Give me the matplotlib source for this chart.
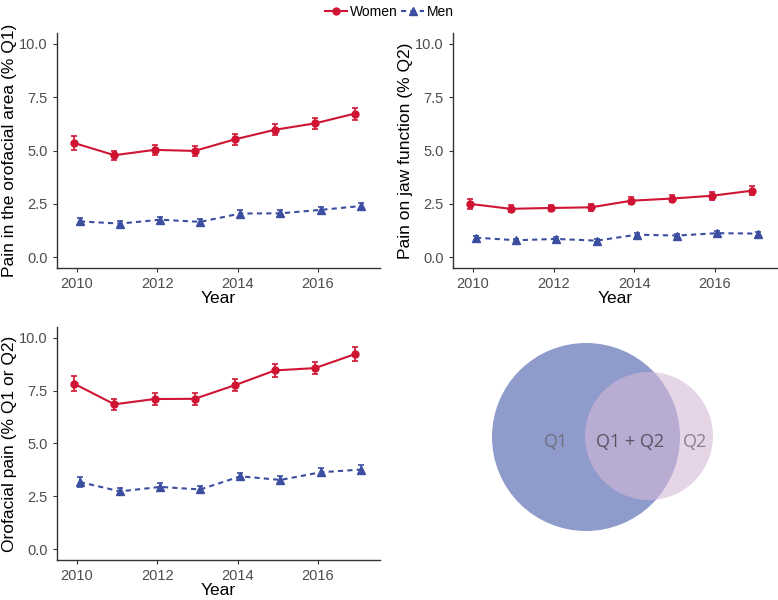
import matplotlib
matplotlib.use("Agg")
import matplotlib.pyplot as plt
from matplotlib.patches import Circle
from matplotlib.lines import Line2D
import numpy as np

plt.rcParams['font.family'] = ['Liberation Sans', 'DejaVu Sans']

years = [2010, 2011, 2012, 2013, 2014, 2015, 2016, 2017]

# Q1: pain in the orofacial area
q1_women = [5.35, 4.78, 5.03, 4.98, 5.52, 5.97, 6.27, 6.73]
q1_women_err = [0.32, 0.22, 0.24, 0.22, 0.24, 0.25, 0.26, 0.28]
q1_men = [1.68, 1.58, 1.76, 1.66, 2.05, 2.06, 2.22, 2.40]
q1_men_err = [0.15, 0.13, 0.14, 0.13, 0.15, 0.14, 0.15, 0.16]

# Q2: pain on jaw function
q2_women = [2.50, 2.27, 2.31, 2.34, 2.65, 2.75, 2.88, 3.12]
q2_women_err = [0.22, 0.16, 0.16, 0.16, 0.17, 0.17, 0.18, 0.2]
q2_men = [0.92, 0.80, 0.86, 0.78, 1.06, 1.02, 1.13, 1.11]
q2_men_err = [0.09, 0.08, 0.08, 0.08, 0.09, 0.08, 0.09, 0.09]

# Q1 or Q2
any_women = [7.82, 6.85, 7.10, 7.11, 7.75, 8.45, 8.56, 9.22]
any_women_err = [0.35, 0.27, 0.28, 0.27, 0.29, 0.29, 0.3, 0.32]
any_men = [3.18, 2.74, 2.95, 2.83, 3.45, 3.28, 3.64, 3.77]
any_men_err = [0.22, 0.15, 0.17, 0.16, 0.18, 0.17, 0.18, 0.2]

ylabels = ["Pain in the orofacial area (% Q1)",
           "Pain on jaw function (% Q2)",
           "Orofacial pain (% Q1 or Q2)"]
venn_labels = ["Q1", "Q1 + Q2", "Q2"]

RED = '#cf1533'
BLUE = '#3c4ea0'
TXT = '#4d4d4d'

W, H = 778, 600
fig = plt.figure(figsize=(7.78, 6), dpi=100)


def px_axes(x0, y0, x1, y1):
    return fig.add_axes([x0 / W, 1 - y1 / H, (x1 - x0) / W, (y1 - y0) / H])


def panel(ax, women, werr, men, merr, ylabel):
    x = np.array(years)
    ax.errorbar(x - 0.07, women, yerr=werr, color=RED, marker='o', ms=5,
                lw=1.5, capsize=2.5, elinewidth=1.2, capthick=1.2)
    ax.errorbar(x + 0.07, men, yerr=merr, color=BLUE, marker='^', ms=6,
                lw=1.5, ls=(0, (2.5, 2)), capsize=2.5, elinewidth=1.2, capthick=1.2)
    ax.set_xlim(2009.5, 2017.55)
    ax.set_ylim(-0.5, 10.5)
    ax.set_xticks([2010, 2012, 2014, 2016])
    ax.set_yticks([0, 2.5, 5, 7.5, 10])
    ax.set_yticklabels(['0.0', '2.5', '5.0', '7.5', '10.0'])
    for s in ['top', 'right']:
        ax.spines[s].set_visible(False)
    for s in ['left', 'bottom']:
        ax.spines[s].set_color('#333333')
        ax.spines[s].set_linewidth(1.0)
    ax.tick_params(colors='#333333', labelcolor=TXT, labelsize=10.5, length=3)
    ax.set_xlabel('Year', fontsize=12.5, labelpad=0)
    ax.set_ylabel(ylabel, fontsize=12.5, labelpad=2)


ax1 = px_axes(57, 33, 380, 268)
panel(ax1, q1_women, q1_women_err, q1_men, q1_men_err, ylabels[0])
ax2 = px_axes(453, 33, 777, 268)
panel(ax2, q2_women, q2_women_err, q2_men, q2_men_err, ylabels[1])
ax3 = px_axes(57, 327, 380, 560)
panel(ax3, any_women, any_women_err, any_men, any_men_err, ylabels[2])

# legend
handles = [Line2D([], [], color=RED, marker='o', ms=5, lw=1.5),
           Line2D([], [], color=BLUE, marker='^', ms=6, lw=1.5, ls=(0, (2.5, 2)))]
fig.legend(handles, ['Women', 'Men'], loc='upper center', bbox_to_anchor=(0.5, 1.012),
           ncol=2, frameon=False, fontsize=10, handlelength=1.6, handletextpad=0.2,
           columnspacing=0.3)

# Venn diagram (pixel units)
axv = px_axes(470, 300, 778, 560)
axv.set_xlim(470, 778)
axv.set_ylim(560, 300)
axv.set_aspect('equal')
axv.axis('off')
axv.add_patch(Circle((586, 437), 94, color='#8e9bcb', lw=0))
axv.add_patch(Circle((649, 436), 64, color='#d5b9d7', alpha=0.6, lw=0))
axv.text(556, 442, venn_labels[0], ha='center', va='center', fontsize=13,
         color='#707080', family=['Open Sans', 'DejaVu Sans'])
axv.text(630, 442, venn_labels[1], ha='center', va='center', fontsize=13,
         color='#555560', family=['Open Sans', 'DejaVu Sans'])
axv.text(695, 442, venn_labels[2], ha='center', va='center', fontsize=13,
         color='#8a8090', family=['Open Sans', 'DejaVu Sans'])

fig.savefig('out.png', dpi=100)
